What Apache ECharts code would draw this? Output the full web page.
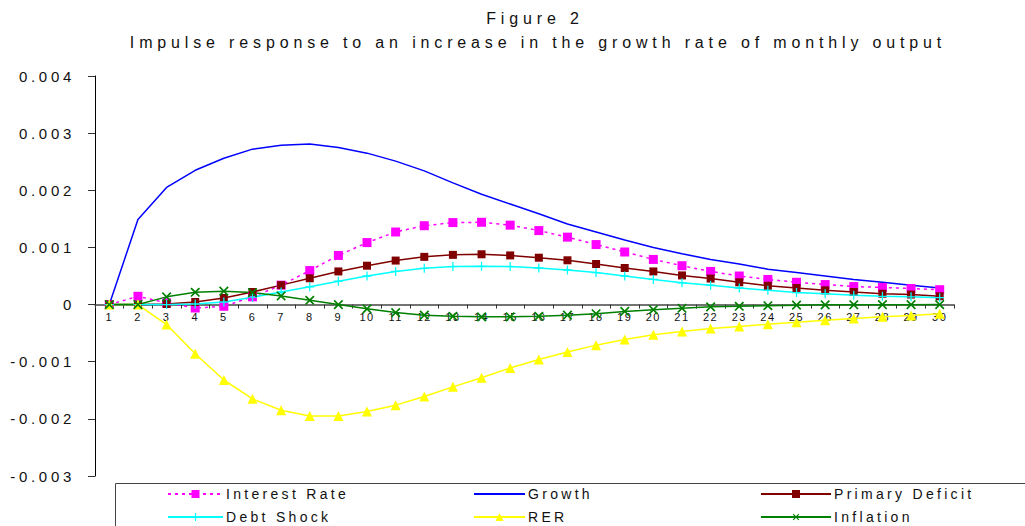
<!DOCTYPE html>
<html>
<head>
<meta charset="utf-8">
<script src="https://cdn.jsdelivr.net/npm/echarts@6/dist/echarts.min.js"></script>
<style>
  html, body { margin: 0; padding: 0; background: #fff; }
  #chart { width: 1025px; height: 526px; }
  svg text[style*="16px"] { letter-spacing: 4.85px; }
  svg text[style*="15px"] { letter-spacing: 3.7px; }
  svg text[style*="14px"] { letter-spacing: 3.3px; }
  svg text[style*="11px"] { letter-spacing: 1.5px; }
</style>
</head>
<body>
<div id="chart"></div>
<script>
const months = ['1','2','3','4','5','6','7','8','9','10','11','12','13','14','15','16','17','18','19','20','21','22','23','24','25','26','27','28','29','30'];
const yTicks = [-0.003, -0.002, -0.001, 0, 0.001, 0.002, 0.003, 0.004];
const interestRate = [0, 0.000145, 0.00003, -0.00006, -0.00003, 0.000135, 0.00034, 0.000595, 0.00086, 0.001085, 0.00127, 0.00138, 0.001435, 0.00144, 0.00139, 0.001295, 0.00118, 0.00105, 0.00092, 0.00079, 0.00068, 0.00058, 0.0005, 0.00044, 0.00039, 0.00035, 0.000315, 0.0003, 0.00028, 0.00026];
const growth = [0, 0.00149, 0.00205, 0.00235, 0.00256, 0.00272, 0.00279, 0.00281, 0.00275, 0.00265, 0.00251, 0.00234, 0.00213, 0.00193, 0.00176, 0.00159, 0.00141, 0.00127, 0.00113, 0.00100, 0.00089, 0.00079, 0.00071, 0.00062, 0.00056, 0.00050, 0.00044, 0.00039, 0.00034, 0.00029];
const primaryDeficit = [0, 0, 0.00001, 0.000045, 0.000115, 0.00022, 0.00034, 0.00046, 0.00058, 0.00068, 0.00077, 0.000835, 0.00087, 0.00088, 0.00086, 0.00082, 0.000775, 0.00071, 0.00064, 0.00058, 0.00051, 0.000455, 0.00039, 0.00033, 0.00029, 0.00025, 0.00022, 0.00019, 0.000175, 0.000145];
const debtShock = [0, 0, 0, 0.00001, 0.000045, 0.00013, 0.00022, 0.00031, 0.00041, 0.0005, 0.00058, 0.000635, 0.000665, 0.00067, 0.000665, 0.00064, 0.000605, 0.00056, 0.0005, 0.00044, 0.00038, 0.00034, 0.00029, 0.00025, 0.00021, 0.00019, 0.000165, 0.000145, 0.000135, 0.00012];
const rer = [0, 0, -0.00035, -0.00086, -0.00132, -0.00165, -0.00185, -0.00195, -0.00195, -0.00187, -0.00176, -0.00161, -0.00144, -0.00128, -0.00111, -0.00096, -0.00083, -0.00071, -0.00061, -0.00053, -0.00047, -0.00042, -0.000385, -0.000345, -0.00031, -0.000275, -0.000245, -0.000215, -0.00019, -0.00016];
const inflation = [0, 0, 0.000135, 0.000215, 0.000235, 0.00021, 0.00015, 0.000075, 0, -0.000075, -0.00014, -0.000185, -0.000205, -0.000215, -0.000215, -0.000205, -0.000185, -0.00016, -0.00012, -0.00009, -0.000065, -0.00004, -0.00003, -0.00002, -0.00001, -0.000005, -0.000003, -0.000002, -0.000001, 0];

const FONT = '"Liberation Sans", Arial, sans-serif';
const PLUS = 'path://M4.3,0H5.7V4.3H10V5.7H5.7V10H4.3V5.7H0V4.3H4.3Z';

const GRID = { left: 95, right: 71, top: 76, bottom: 50 };
const PLOT_H = 526 - GRID.top - GRID.bottom;
// distance of the zero line above the grid bottom, from the value scale
const zeroOffset = (0 - yTicks[0]) / (yTicks[yTicks.length - 1] - yTicks[0]) * PLOT_H;

const chart = echarts.init(document.getElementById('chart'), null, { renderer: 'svg' });

function legendAt(name, left, top, w, hideSymbol) {
  const l = {
    data: [name], left: left, top: top, padding: 0,
    itemWidth: w, itemHeight: 10, itemGap: 0,
    selectedMode: false,
    textStyle: { fontFamily: FONT, fontSize: 14, color: '#111', padding: [0, 0, 0, -2] }
  };
  if (hideSymbol) l.itemStyle = { opacity: 0 };
  return l;
}

const option = {
  backgroundColor: '#fff',
  animation: false,
  textStyle: { fontFamily: FONT },
  title: [
    { text: 'Figure 2', left: 530, top: 5, textAlign: 'center',
      textStyle: { fontFamily: FONT, fontSize: 16, fontWeight: 'normal', color: '#111' } },
    { text: 'Impulse response to an increase in the growth rate of monthly output', left: 533, top: 29, textAlign: 'center',
      textStyle: { fontFamily: FONT, fontSize: 16, fontWeight: 'normal', color: '#111' } }
  ],
  graphic: [
    { type: 'rect', left: 113, top: 481, shape: { width: 1000, height: 100 },
      style: { fill: 'none', stroke: '#444', lineWidth: 1 }, z: -1 }
  ],
  legend: [
    legendAt('Interest Rate', 167, 487, 55),
    legendAt('Growth', 473, 487, 51, true),
    legendAt('Primary Deficit', 760, 487, 70),
    legendAt('Debt Shock', 167, 510, 55),
    legendAt('RER', 473, 510, 51),
    legendAt('Inflation', 760, 510, 70)
  ],
  grid: { left: GRID.left, right: GRID.right, top: GRID.top, bottom: GRID.bottom, containLabel: false, outerBoundsMode: 'none' },
  xAxis: {
    type: 'category', data: months, boundaryGap: true, position: 'bottom',
    offset: -zeroOffset,
    axisLine: { onZero: false, lineStyle: { color: '#444', width: 1.5 } },
    axisTick: { show: true, length: 4, lineStyle: { color: '#333' } },
    axisLabel: { interval: 0, fontFamily: FONT, fontSize: 11, color: '#111', margin: 7 },
    splitLine: { show: false }
  },
  yAxis: {
    type: 'value', min: yTicks[0], max: yTicks[yTicks.length - 1], interval: 0.001,
    axisLine: { show: true, lineStyle: { color: '#000', width: 1 } },
    axisTick: { show: true, length: 7, lineStyle: { color: '#333' } },
    axisLabel: { fontFamily: FONT, fontSize: 15, color: '#111', margin: 20,
      formatter: function (v) { return String(parseFloat(v.toFixed(3))); } },
    splitLine: { show: false }
  },
  series: [
    { name: 'Interest Rate', type: 'line', data: interestRate, symbol: 'rect', symbolSize: 9,
      showAllSymbol: true, color: '#FF00FF',
      lineStyle: { color: '#FF00FF', width: 1.5, type: [3, 4] }, itemStyle: { color: '#FF00FF' } },
    { name: 'Growth', type: 'line', data: growth, symbol: 'none', color: '#0000FF',
      lineStyle: { color: '#0000FF', width: 1.5 } },
    { name: 'Primary Deficit', type: 'line', data: primaryDeficit, symbol: 'rect', symbolSize: 8,
      showAllSymbol: true, color: '#800000',
      lineStyle: { color: '#800000', width: 1.5 }, itemStyle: { color: '#800000' } },
    { name: 'Debt Shock', type: 'line', data: debtShock, symbol: PLUS, symbolSize: 9,
      showAllSymbol: true, color: '#00FFFF',
      lineStyle: { color: '#00FFFF', width: 1.5 }, itemStyle: { color: '#00FFFF' } },
    { name: 'RER', type: 'line', data: rer, symbol: 'triangle', symbolSize: 10,
      showAllSymbol: true, color: '#FFFF00',
      lineStyle: { color: '#FFFF00', width: 1.5 }, itemStyle: { color: '#FFFF00' } },
    { name: 'Inflation', type: 'line', data: inflation, symbol: PLUS, symbolSize: 12, symbolRotate: 45,
      showAllSymbol: true, color: '#008000',
      lineStyle: { color: '#008000', width: 1.5 }, itemStyle: { color: '#008000' } }
  ]
};
chart.setOption(option);
</script>
</body>
</html>
